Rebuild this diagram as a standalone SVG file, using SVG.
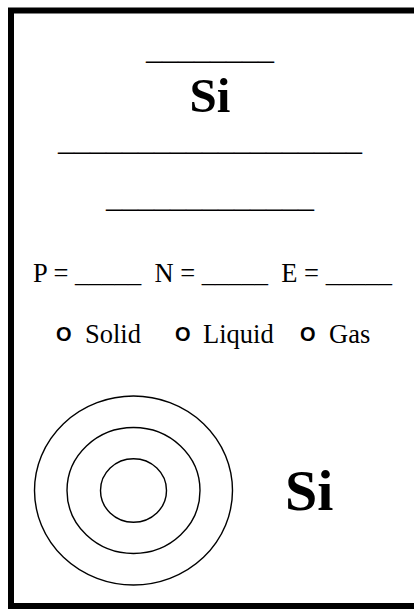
<svg xmlns="http://www.w3.org/2000/svg" width="414" height="609" viewBox="0 0 414 609">
  <style>
    .serif { font-family: "Liberation Serif", "Times New Roman", serif; fill: #000; }
    .blank { font-size: 32px; }
    .sym { font-weight: bold; }
    .row { font-size: 26.5px; }
    .radio { font-family: "Liberation Sans", Arial, sans-serif; font-weight: bold; fill: #000; }
    .shell { fill: none; stroke: #000; stroke-width: 1.4; }
  </style>
  <rect width="414" height="609" fill="#fff"/>
  <g id="card">
    <rect x="11" y="10.5" width="420" height="595.5" fill="none" stroke="#000" stroke-width="6"/>
  </g>
  <g id="header">
    <text class="serif blank" x="210" y="58.5" text-anchor="middle">________</text>
    <text class="serif sym" x="210" y="111.5" font-size="49" text-anchor="middle">Si</text>
    <text class="serif blank" x="210" y="149.5" text-anchor="middle">___________________</text>
    <text class="serif blank" x="210" y="206.5" text-anchor="middle">_____________</text>
  </g>
  <g id="counts">
    <text class="serif row" x="33" y="282" xml:space="preserve">P = _____  N = _____  E = _____</text>
  </g>
  <g id="states">
    <text class="radio" x="56" y="341" font-size="20">O</text>
    <text class="serif row" x="85" y="343">Solid</text>
    <text class="radio" x="175" y="341" font-size="20">O</text>
    <text class="serif row" x="203" y="343">Liquid</text>
    <text class="radio" x="300" y="341" font-size="20">O</text>
    <text class="serif row" x="329" y="343">Gas</text>
  </g>
  <g id="bohr-model">
    <ellipse class="shell" cx="133.5" cy="490.5" rx="99" ry="94.5"/>
    <ellipse class="shell" cx="133.5" cy="490.5" rx="66.5" ry="63"/>
    <ellipse class="shell" cx="133.5" cy="490.5" rx="33" ry="31.7"/>
  </g>
  <g id="symbol">
    <text class="serif sym" x="285" y="510" font-size="58">Si</text>
  </g>
</svg>
